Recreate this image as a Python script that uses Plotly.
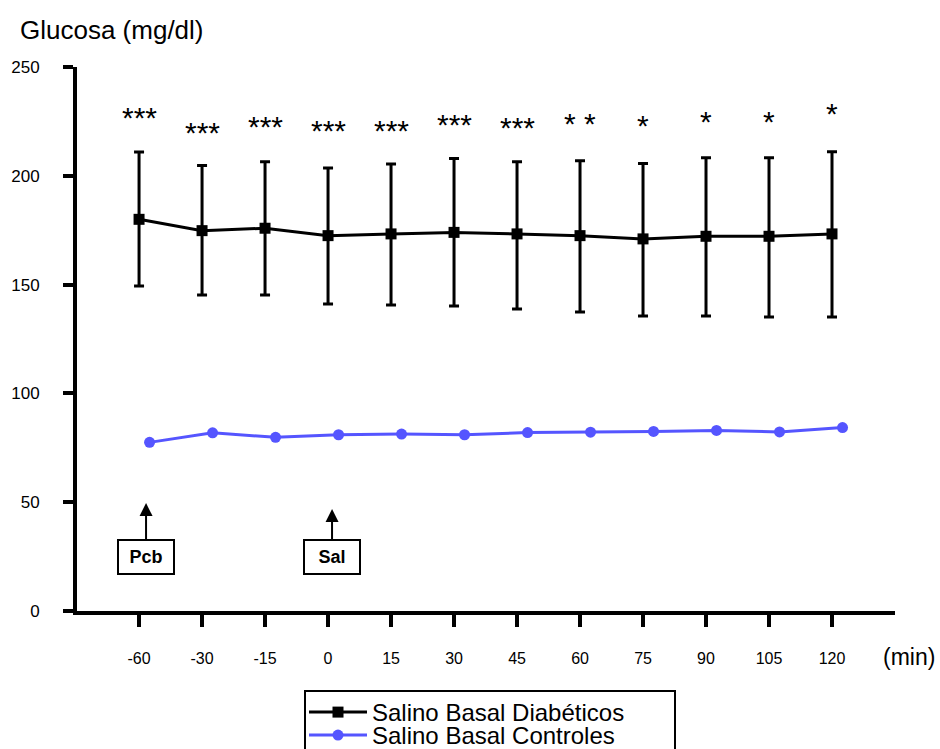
import plotly.graph_objects as go

categories = ["-60", "-30", "-15", "0", "15", "30", "45", "60", "75", "90", "105", "120"]
diab_mean = [180.0, 174.8, 175.9, 172.5, 173.3, 174.0, 173.3, 172.5, 171.0, 172.2, 172.2, 173.3]
diab_upper = [210.9, 204.7, 206.5, 203.6, 205.4, 207.9, 206.5, 206.9, 205.7, 208.3, 208.3, 211.1]
diab_lower = [149.4, 145.2, 145.2, 141.1, 140.6, 140.2, 138.8, 137.4, 135.6, 135.6, 135.1, 135.1]
ctrl_mean = [77.5, 81.9, 79.8, 81.0, 81.3, 81.0, 82.0, 82.2, 82.5, 83.0, 82.3, 84.3]
stars = ["***", "***", "***", "***", "***", "***", "***", "* *", "*", "*", "*", "*"]
stars_y = [228.0, 221.2, 224.0, 222.0, 222.0, 224.8, 223.4, 225.6, 224.3, 226.5, 226.5, 230.2]

FONT = "Liberation Sans, Arial, sans-serif"
idx = list(range(len(categories)))
ctrl_offset = 0.167
err_plus = [u - m for u, m in zip(diab_upper, diab_mean)]
err_minus = [m - l for m, l in zip(diab_mean, diab_lower)]

fig = go.Figure()
fig.add_trace(go.Scatter(
    x=idx, y=diab_mean, mode="lines+markers", name="Salino Basal Diabéticos",
    line=dict(color="black", width=3),
    marker=dict(symbol="square", size=11, color="black"),
    error_y=dict(type="data", symmetric=False, array=err_plus, arrayminus=err_minus,
                 color="black", thickness=3, width=5),
    legend="legend",
))
fig.add_trace(go.Scatter(
    x=[i + ctrl_offset for i in idx], y=ctrl_mean, mode="lines+markers",
    name="Salino Basal Controles",
    line=dict(color="#5555FF", width=3),
    marker=dict(symbol="circle", size=11, color="#5555FF"),
    legend="legend2",
))

for i, (s, sy) in enumerate(zip(stars, stars_y)):
    fig.add_annotation(x=i, y=sy, xref="x", yref="y", text=s, showarrow=False,
                       font=dict(family=FONT, size=30, color="black"), yshift=-3)

# Injection markers
for label, xi, tip_y, xs, ay in [("Pcb", 0, 49.6, 7, 54), ("Sal", 3, 46.9, 4, 48)]:
    fig.add_annotation(x=xi, y=tip_y, xref="x", yref="y", xshift=xs,
                       text="<b>" + label + "</b>", showarrow=True,
                       ax=0, ay=ay, arrowhead=2, arrowsize=1.3, arrowwidth=2,
                       arrowcolor="black", bordercolor="black", borderwidth=2,
                       borderpad=2, bgcolor="white", width=50, height=28,
                       font=dict(family=FONT, size=18, color="black"))

L, R, T, B = 77, 45, 67, 138
plot_w = 940 - L - R
plot_h = 749 - T - B

def px_x(p):
    return (p - L) / plot_w

def px_y(p):
    return (749 - B - p) / plot_h

fig.add_annotation(text="Glucosa (mg/dl)", x=px_x(18), y=px_y(30),
                   xref="paper", yref="paper", xanchor="left", yanchor="middle",
                   showarrow=False, font=dict(family=FONT, size=26, color="black"))
fig.add_annotation(text="(min)", x=px_x(909), y=px_y(657),
                   xref="paper", yref="paper", xanchor="center", yanchor="middle",
                   showarrow=False, font=dict(family=FONT, size=23, color="black"))

# legend frame
fig.add_shape(type="rect", xref="paper", yref="paper",
              x0=px_x(305), x1=px_x(675), y0=px_y(691), y1=px_y(770),
              line=dict(color="black", width=2), fillcolor="rgba(0,0,0,0)", layer="above")

leg_common = dict(xanchor="left", yanchor="top", borderwidth=0, bgcolor="rgba(0,0,0,0)",
                  font=dict(family=FONT, size=24, color="black"), itemwidth=58)

fig.update_layout(
    width=940, height=749,
    margin=dict(l=L, r=R, t=T, b=B, autoexpand=False),
    paper_bgcolor="white", plot_bgcolor="white",
    font=dict(family=FONT, color="black"),
    showlegend=True,
    legend=dict(x=px_x(304), y=px_y(690), **leg_common),
    legend2=dict(x=px_x(304), y=px_y(713), **leg_common),
)

fig.update_xaxes(
    range=[-0.985, 12.0], tickmode="array", tickvals=idx, ticktext=categories,
    showgrid=False, zeroline=False, showline=True, linecolor="black", linewidth=4,
    ticks="outside", ticklen=12, tickwidth=4, tickcolor="black",
    tickfont=dict(family=FONT, size=16, color="black"), ticklabelstandoff=18,
)
fig.update_yaxes(
    range=[0, 250], tickvals=[0, 50, 100, 150, 200, 250],
    showgrid=False, zeroline=False, showline=True, linecolor="black", linewidth=4,
    ticks="outside", ticklen=10, tickwidth=4, tickcolor="black",
    tickfont=dict(family=FONT, size=17, color="black"), ticklabelstandoff=20,
)

fig.write_html("out.html")
